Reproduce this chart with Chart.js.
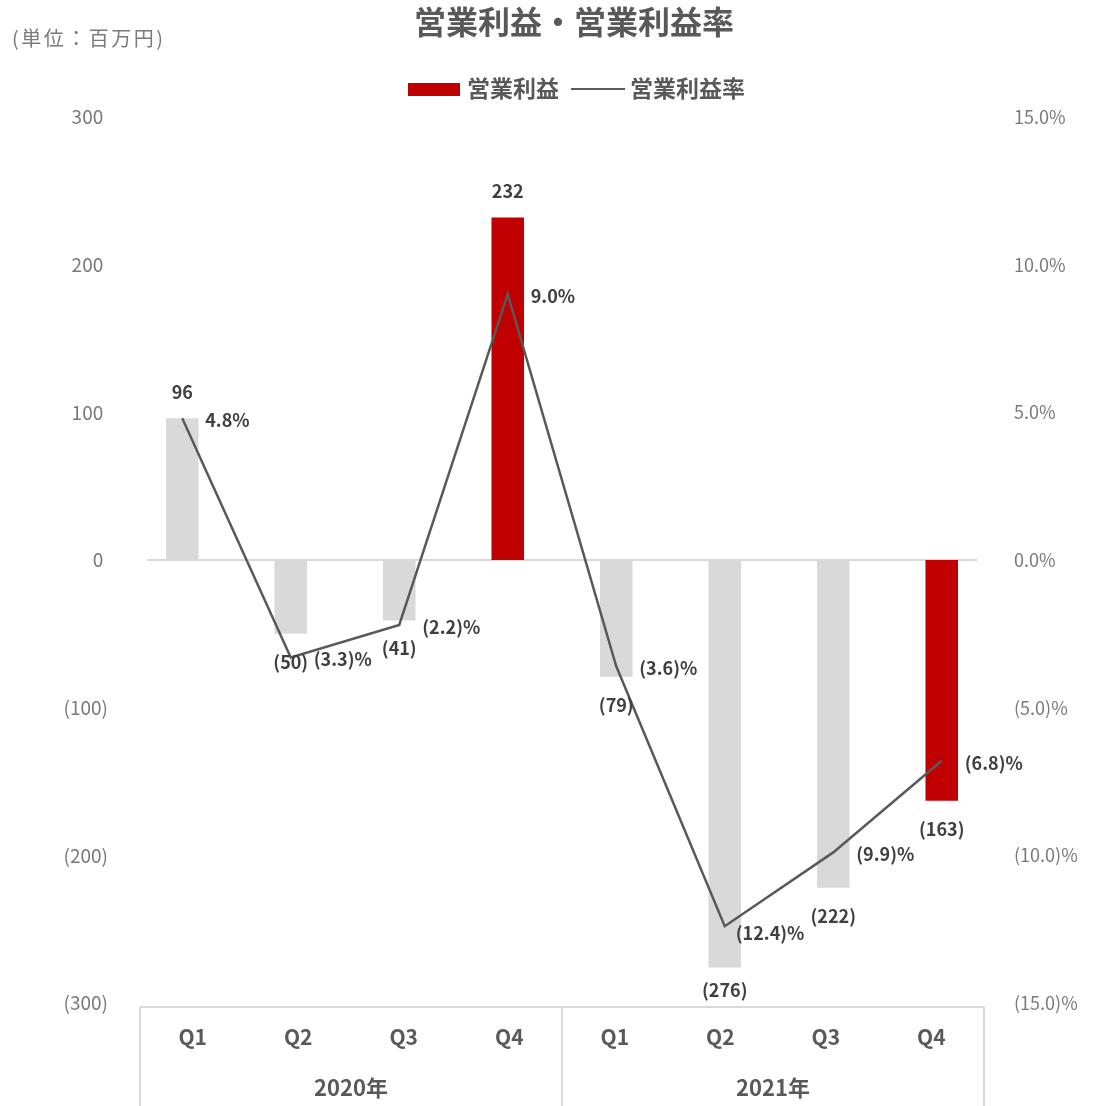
<!DOCTYPE html>
<html lang="ja">
<head>
<meta charset="utf-8">
<title>営業利益・営業利益率</title>
<script src="https://cdn.jsdelivr.net/npm/chart.js@4/dist/chart.umd.min.js"></script>
<style>
  html, body { margin: 0; padding: 0; background: #ffffff; }
  canvas { display: block; }
</style>
</head>
<body>
<canvas id="chart" width="1107" height="1106"></canvas>
<script>
// Quarterly operating profit (百万円) and operating margin (%)
const categories = ['Q1', 'Q2', 'Q3', 'Q4', 'Q1', 'Q2', 'Q3', 'Q4'];
const years = ['2020年', '2021年'];
const operatingProfit = [96, -50, -41, 232, -79, -276, -222, -163];
const operatingMargin = [4.8, -3.3, -2.2, 9.0, -3.6, -12.4, -9.9, -6.8];
const profitAxisTicks = [300, 200, 100, 0, -100, -200, -300];
const marginAxisTicks = [15, 10, 5, 0, -5, -10, -15];

const titleText = '営業利益・営業利益率';
const unitText = '(単位：百万円)';
const profitLabel = '営業利益';
const marginLabel = '営業利益率';

// label nudges (px) for margin labels that would collide with a bar label
const marginLabelNudge = { 5: [-12, 5] };

const FONT = '"Noto Sans CJK JP", "Noto Sans", sans-serif';
const RED = '#c00000';
const GREY_BAR = '#d9d9d9';
const LINE = '#595959';
const TEXT = '#595959';
const LABEL = '#404040';
const TICK = '#7a7a7a';
const RULE = '#d9d9d9';

const fmtYen = v => v < 0 ? `(${-v})` : `${v}`;
const fmtPct = v => v < 0 ? `(${(-v).toFixed(1)})%` : `${v.toFixed(1)}%`;

// frame around the category labels
function categoryFrame(chart) {
  const { chartArea, scales: { x } } = chart;
  const step = x.getPixelForValue(1) - x.getPixelForValue(0);
  return {
    top: chartArea.bottom + 4,
    bottom: chart.height,
    left: x.getPixelForValue(0) - step * 0.39,
    right: x.getPixelForValue(categories.length - 1) + step * 0.39
  };
}

const decorations = {
  id: 'decorations',
  beforeDatasetsDraw(chart) {
    const { ctx, scales: { x, y } } = chart;
    const step = x.getPixelForValue(1) - x.getPixelForValue(0);
    const y0 = Math.round(y.getPixelForValue(0));
    ctx.save();
    ctx.strokeStyle = RULE;
    ctx.lineWidth = 2;
    ctx.beginPath();
    ctx.moveTo(x.getPixelForValue(0) - step * 0.325, y0);
    ctx.lineTo(x.getPixelForValue(categories.length - 1) + step * 0.325, y0);
    ctx.stroke();
    ctx.restore();
  },
  afterDatasetsDraw(chart) {
    const { ctx, chartArea, scales: { x, y, y1 } } = chart;
    ctx.save();
    ctx.fillStyle = LABEL;
    ctx.font = `bold 18px ${FONT}`;
    ctx.textBaseline = 'middle';
    // bar value labels
    ctx.textAlign = 'center';
    operatingProfit.forEach((v, i) => {
      const px = x.getPixelForValue(i);
      const py = y.getPixelForValue(v);
      let ly = v >= 0 ? py - 26 : py + 28;
      ly = Math.min(ly, chartArea.bottom - 13);
      ctx.fillText(fmtYen(v), px, ly);
    });
    // margin labels to the right of each point
    ctx.textAlign = 'left';
    operatingMargin.forEach((v, i) => {
      const px = x.getPixelForValue(i);
      const py = y1.getPixelForValue(v);
      const [dx, dy] = marginLabelNudge[i] || [0, 0];
      ctx.fillText(fmtPct(v), px + 23 + dx, py + 2 + dy);
    });
    ctx.restore();
  },
  afterDraw(chart) {
    const { ctx, chartArea } = chart;
    ctx.save();

    // title
    ctx.fillStyle = TEXT;
    ctx.textBaseline = 'middle';
    ctx.textAlign = 'center';
    ctx.font = `bold 32px ${FONT}`;
    ctx.fillText(titleText, 574, 22);

    // unit note
    ctx.textAlign = 'left';
    ctx.font = `20px ${FONT}`;
    ctx.letterSpacing = '2.5px';
    ctx.fillStyle = TICK;
    ctx.fillText(unitText, 12, 38);
    ctx.letterSpacing = '0px';

    // legend
    let lx = 408;
    const ly = 88;
    ctx.fillStyle = RED;
    ctx.fillRect(lx, ly - 5, 52, 13);
    lx += 59;
    ctx.font = `bold 23px ${FONT}`;
    ctx.fillStyle = TEXT;
    ctx.fillText(profitLabel, lx, ly);
    lx += ctx.measureText(profitLabel).width + 12;
    ctx.strokeStyle = LINE;
    ctx.lineWidth = 2;
    ctx.beginPath();
    ctx.moveTo(lx, ly + 1);
    ctx.lineTo(lx + 54, ly + 1);
    ctx.stroke();
    lx += 59;
    ctx.fillText(marginLabel, lx, ly);

    // category axis frame
    const f = categoryFrame(chart);
    const mid = (f.left + f.right) / 2;
    ctx.strokeStyle = RULE;
    ctx.lineWidth = 2;
    ctx.beginPath();
    ctx.moveTo(f.left, f.top); ctx.lineTo(f.right, f.top);
    [f.left, mid, f.right].forEach(px => {
      ctx.moveTo(Math.round(px), f.top);
      ctx.lineTo(Math.round(px), f.bottom);
    });
    ctx.stroke();

    // quarter labels spread evenly across the frame, year labels centred per half
    ctx.fillStyle = TEXT;
    ctx.textAlign = 'center';
    ctx.font = `bold 21px ${FONT}`;
    const slot = (f.right - f.left) / categories.length;
    categories.forEach((c, i) => ctx.fillText(c, f.left + slot * (i + 0.5), chartArea.bottom + 34));
    ctx.font = `bold 22px ${FONT}`;
    const half = (f.right - f.left) / years.length;
    years.forEach((yr, g) => ctx.fillText(yr, f.left + half * (g + 0.5), chartArea.bottom + 85));
    ctx.restore();
  }
};

new Chart(document.getElementById('chart'), {
  data: {
    labels: categories,
    datasets: [
      {
        type: 'line',
        label: marginLabel,
        data: operatingMargin,
        yAxisID: 'y1',
        borderColor: LINE,
        borderWidth: 2.5,
        pointRadius: 0,
        tension: 0,
        order: 0
      },
      {
        type: 'bar',
        label: profitLabel,
        data: operatingProfit,
        yAxisID: 'y',
        backgroundColor: categories.map(c => c === 'Q4' ? RED : GREY_BAR),
        categoryPercentage: 1,
        barPercentage: 0.3,
        order: 1
      }
    ]
  },
  options: {
    responsive: false,
    animation: false,
    layout: { padding: { top: 117, left: 0, right: 0, bottom: 0 } },
    plugins: {
      legend: { display: false },
      title: { display: false },
      tooltip: { enabled: false }
    },
    scales: {
      x: {
        type: 'category',
        offset: true,
        grid: { display: false },
        border: { display: false },
        ticks: { display: false },
        afterFit(scale) { scale.height = 103; }
      },
      y: {
        position: 'left',
        min: -300,
        max: 300,
        grid: { display: false, drawTicks: false },
        border: { display: false },
        afterBuildTicks(scale) { scale.ticks = profitAxisTicks.map(v => ({ value: v })); },
        ticks: {
          padding: 20,
          color: TICK,
          font: { family: FONT, size: 19 },
          // non-negative values keep a trailing gap so digits line up with the bracketed ones
          callback: v => v < 0 ? fmtYen(v) : fmtYen(v) + '\u2005'
        },
        afterFit(scale) { scale.width = 128; }
      },
      y1: {
        position: 'right',
        min: -15,
        max: 15,
        grid: { display: false, drawTicks: false },
        border: { display: false },
        afterBuildTicks(scale) { scale.ticks = marginAxisTicks.map(v => ({ value: v })); },
        ticks: {
          padding: 18,
          color: TICK,
          font: { family: FONT, size: 18 },
          callback: v => fmtPct(v)
        },
        afterFit(scale) { scale.width = 111; }
      }
    }
  },
  plugins: [decorations]
});
</script>
</body>
</html>
